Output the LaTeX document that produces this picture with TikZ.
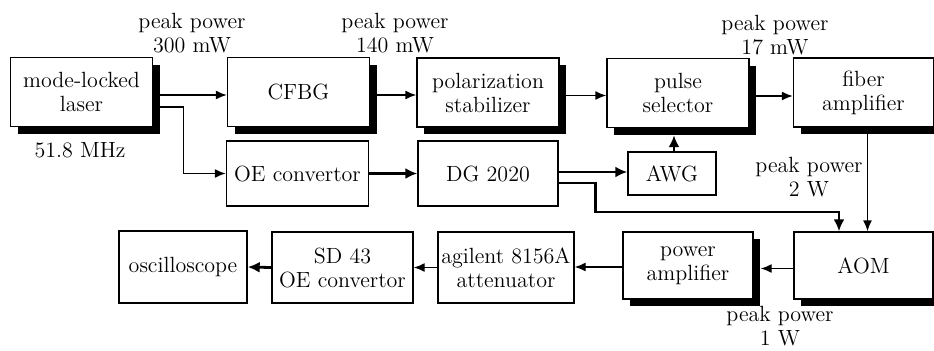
\documentclass[tikz,border=0pt]{standalone}
\usetikzlibrary{arrows.meta, shadows}
\begin{document}
\begin{tikzpicture}[x=0.5pt, y=-0.5pt,
	every node/.style={font=\fontsize{11}{12}\selectfont, align=center},
	optbox/.style={draw, fill=white, line width=0.7pt, inner xsep=1pt,
		minimum width=71pt, minimum height=34.5pt,
		drop shadow={shadow xshift=3.5pt, shadow yshift=-3.5pt, fill=black, opacity=1}},
	elecbox/.style={draw, fill=white, line width=0.7pt, inner xsep=1pt,
		minimum width=71pt, minimum height=32.5pt},
	optline/.style={-{Latex[length=5.5pt, width=4.5pt]}, line width=0.7pt},
	elecline/.style={-{Latex[length=6pt, width=5.5pt]}, line width=1.4pt}]

	\useasboundingbox (0,0) rectangle (934,350);

	% top row: optical path
	\node[optbox] (laser) at (81.5,92) {mode-locked\\laser};
	\node[optbox] (cfbg) at (298.5,92) {CFBG};
	\node[optbox] (polar) at (488,92.5) {polarization\\stabilizer};
	\node[optbox] (pulse) at (678,93) {pulse\\selector};
	\node[optbox, minimum width=70pt] (fiber) at (863.5,92.5) {fiber\\amplifier};

	% middle row: electrical path
	\node[elecbox] (oe) at (297.5,173.5) {OE convertor};
	\node[elecbox, minimum width=70pt] (dg) at (488,173.5) {DG 2020};
	\node[elecbox, minimum width=44pt, minimum height=21.5pt] (awg) at (672,173.5) {AWG};

	% bottom row
	\node[elecbox, minimum width=64pt, minimum height=36pt] (osc) at (183,267) {oscilloscope};
	\node[elecbox, minimum width=70.5pt, minimum height=35.5pt] (sd) at (342.5,267.5) {SD 43\\OE convertor};
	\node[elecbox, minimum width=68pt, minimum height=35.5pt] (att) at (506,267.5) {agilent 8156A\\attenuator};
	\node[optbox, minimum width=65pt, minimum height=33.5pt] (power) at (688,265.5) {power\\amplifier};
	\node[optbox, minimum width=69.5pt, minimum height=33.5pt] (aom) at (863.5,265.5) {AOM};

	% labels
	\node (pp300) at (192,33) {peak power\\300 mW};
	\node (rate) at (80,150) {51.8 MHz};
	\node (pp140) at (395,33) {peak power\\140 mW};
	\node (pp17) at (775,35) {peak power\\17 mW};
	\node (pp2) at (809,177) {peak power\\2 W};
	\node (pp1) at (780,326) {peak power\\1 W};

	\coordinate (bend) at (839,212);

	% optical connections
	\draw[optline] ([yshift=-1.5pt]laser.east) -- ([yshift=-1.5pt]cfbg.west);
	\draw[optline] ([yshift=-7.5pt]laser.east) -- ++(15pt,0) |- (oe.west);
	\draw[optline] ([yshift=-1.5pt]cfbg.east) -- ([yshift=-1.5pt]cfbg.east -| polar.west);
	\draw[optline] ([yshift=-1.5pt]polar.east) -- ([yshift=-1.5pt]polar.east -| pulse.west);
	\draw[optline] ([yshift=-1.5pt]pulse.east) -- ([yshift=-1.5pt]pulse.east -| fiber.west);
	\draw[optline] ([xshift=2pt]fiber.south) -- ([xshift=2pt]aom.north);
	\draw[optline] ([yshift=-1.5pt]aom.west) -- ([xshift=3.5pt, yshift=-1.5pt]aom.west -| power.east);
	\draw[optline] ([yshift=-0.75pt]power.west) -- ([yshift=-0.75pt]power.west -| att.east);
	\draw[optline] (att.west) -- (att.west -| sd.east);

	% electrical connections
	\draw[elecline] (oe.east) -- (dg.west);
	\draw[elecline] ([yshift=0.75pt]dg.east) -- ([yshift=0.75pt]dg.east -| awg.west);
	\draw[elecline] ([yshift=-4.75pt]dg.east) -- ++(18.5pt,0) |- (bend) -- (bend |- aom.north);
	\draw[elecline] ([xshift=1pt]awg.north) -- ([xshift=1pt, yshift=-3.5pt]awg.north |- pulse.south);
	\draw[elecline] (sd.west) -- (osc.east);
\end{tikzpicture}
\end{document}
